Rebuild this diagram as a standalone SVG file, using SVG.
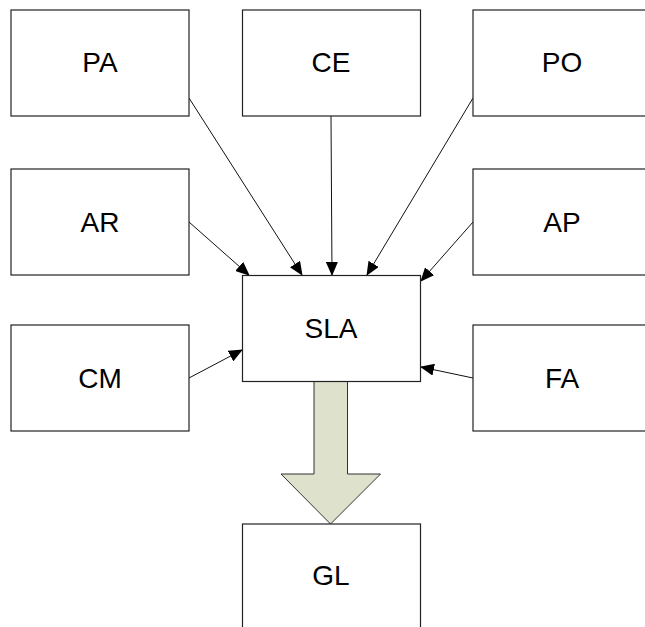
<svg xmlns="http://www.w3.org/2000/svg" width="645" height="627" viewBox="0 0 645 627">
<style>
.box{fill:#fff;stroke:#222;stroke-width:1.2}
.lbl{font-family:"Liberation Sans",Arial,sans-serif;font-size:28px;fill:#000;text-anchor:middle}
.con{stroke:#111;stroke-width:1;fill:none;marker-end:url(#ah)}
</style>
<defs>
<marker id="ah" markerWidth="14" markerHeight="12" refX="13" refY="6" orient="auto" markerUnits="userSpaceOnUse">
<path d="M0,0 L14,6 L0,12 Z" fill="#000"/>
</marker>
</defs>
<rect width="645" height="627" fill="#fff"/>
<g id="connectors">
<line class="con" x1="189" y1="98" x2="302" y2="275"/>
<line class="con" x1="331" y1="116" x2="332" y2="275"/>
<line class="con" x1="473" y1="98" x2="367" y2="275"/>
<line class="con" x1="189" y1="222" x2="249" y2="275"/>
<line class="con" x1="473" y1="222" x2="421" y2="281"/>
<line class="con" x1="189" y1="378" x2="242" y2="350"/>
<line class="con" x1="473" y1="378" x2="421" y2="367"/>
<path id="bigarrow" d="M314,381.5 L347.5,381.5 L347.5,474 L380.5,474 L330.5,524 L281,474 L314,474 Z" fill="#dee1cb" stroke="#333" stroke-width="1"/>
</g>
<g id="PA"><rect class="box" x="11" y="10" width="178" height="106"/><text class="lbl" x="100" y="72">PA</text></g>
<g id="CE"><rect class="box" x="242.5" y="10" width="178" height="106"/><text class="lbl" x="331" y="72">CE</text></g>
<g id="PO"><rect class="box" x="473" y="10" width="178" height="106"/><text class="lbl" x="562" y="72">PO</text></g>
<g id="AR"><rect class="box" x="11" y="169" width="178" height="106"/><text class="lbl" x="100" y="232">AR</text></g>
<g id="AP"><rect class="box" x="473" y="169" width="178" height="106"/><text class="lbl" x="562" y="232">AP</text></g>
<g id="SLA"><rect class="box" x="242.5" y="275.5" width="178" height="106"/><text class="lbl" x="331" y="338">SLA</text></g>
<g id="CM"><rect class="box" x="11" y="325" width="178" height="106"/><text class="lbl" x="100" y="388">CM</text></g>
<g id="FA"><rect class="box" x="473" y="325" width="178" height="106"/><text class="lbl" x="562" y="388">FA</text></g>
<g id="GL"><rect class="box" x="242.5" y="524" width="178" height="106"/><text class="lbl" x="331" y="585">GL</text></g>
</svg>
